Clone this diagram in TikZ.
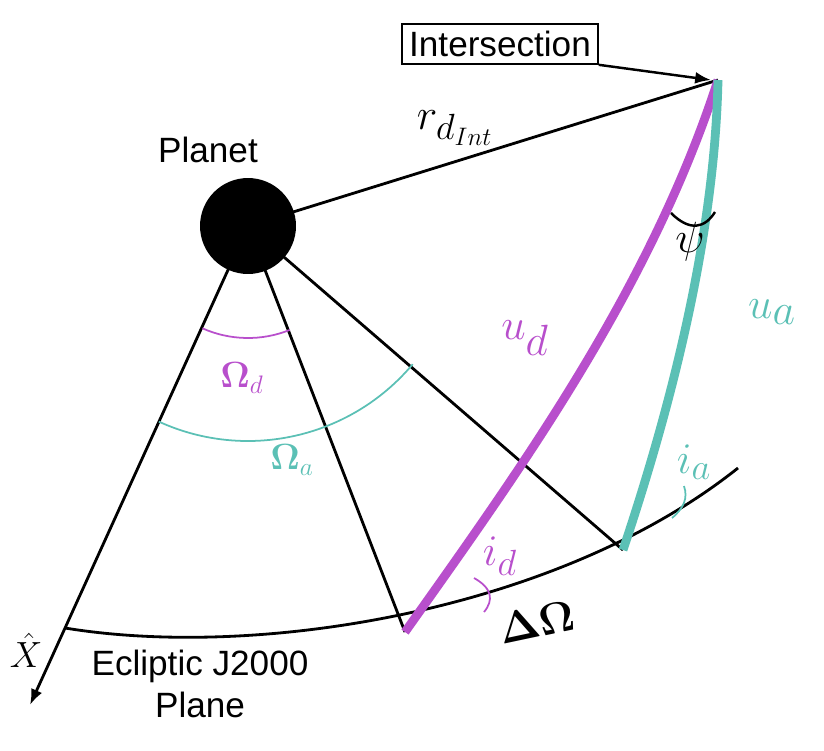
\documentclass[tikz,border=0pt]{standalone}
\usepackage{amsmath}
\usepackage{fontspec}
\setsansfont{Liberation Sans}
\usetikzlibrary{arrows.meta}
\definecolor{dmag}{HTML}{B84FCC}
\definecolor{ateal}{HTML}{5BC0B5}
\tikzset{
  spoke/.style={line width=1.6pt,black},
  lbl/.style={font=\sffamily\fontsize{20}{24}\selectfont},
}
\begin{document}
\begin{tikzpicture}[x=0.02cm,y=-0.02cm]
  \useasboundingbox (0,0) rectangle (824,750);
  % points
  \coordinate (xend) at (65,628);
  \coordinate (dbase) at (405,632);
  \coordinate (abase) at (623,550);
  \coordinate (eclend) at (738,468);
  \coordinate (int) at (718,80);
  \coordinate (xtip) at (30,705);
  \node[circle,fill=black,minimum size=1.92cm,inner sep=0pt] (planet) at (248,226) {};
  \node[lbl] (plbl) at (208,150) {Planet};
  \node[lbl,draw,line width=1pt,inner sep=4pt] (intlbl) at (500,44) {Intersection};
  % spokes
  \draw[spoke,-{Latex[length=9pt]}] (planet.center) -- (xtip);
  \draw[spoke] (planet.center) -- (dbase);
  \draw[spoke] (planet.center) -- (abase);
  \draw[spoke] (planet.center) -- (int);
  \draw[line width=1.4pt,-{Latex[length=9pt]}] (intlbl.south east) -- ([xshift=-4pt]int);
  % ecliptic
  \draw[line width=1.6pt] (xend) .. controls (260,660) and (560,610) .. (eclend);
  % orbits
  \draw[dmag,line width=5pt] (dbase) .. controls (520,470) and (650,290) .. (int);
  \draw[ateal,line width=5pt] (abase) .. controls (680,380) and (715,220) .. (int);
  % angles
  \draw[dmag,line width=1pt] (planet.center) ++(114:112) arc[start angle=114,end angle=68,radius=112];
  \draw[ateal,line width=1pt] (planet.center) ++(114.5:215) arc[start angle=114.5,end angle=40,radius=215];
  \draw[line width=1.4pt] (671,213) .. controls (690,232) and (705,228) .. (715,212);
  \draw[dmag,line width=1pt] (474,578) .. controls (492,588) and (494,600) .. (484,612);
  \draw[ateal,line width=1pt] (672,518) .. controls (684,508) and (688,498) .. (684,486);
  % labels
  \node[text=dmag,font=\fontsize{22}{24}\selectfont] (odl) at (242,378) {$\boldsymbol{\Omega}_d$};
  \node[text=ateal,font=\fontsize{22}{24}\selectfont] (oal) at (292,460) {$\boldsymbol{\Omega}_a$};
  \node[font=\fontsize{30}{32}\selectfont] (rl) at (455,128) {$r_{d_{Int}}$};
  \node[font=\fontsize{32}{34}\selectfont] (psl) at (690,242) {$\psi$};
  \node[text=dmag,font=\fontsize{62}{64}\selectfont] (udl) at (525,338) {$u_d$};
  \node[text=ateal,font=\fontsize{62}{64}\selectfont] (ual) at (772,312) {$u_a$};
  \node[text=dmag,font=\fontsize{28}{30}\selectfont] (idl) at (500,556) {$i_d$};
  \node[text=ateal,font=\fontsize{28}{30}\selectfont] (ial) at (694,462) {$i_a$};
  \node[font=\fontsize{30}{32}\selectfont,rotate=12] (dol) at (537,622) {$\boldsymbol{\Delta\Omega}$};
  \node[font=\fontsize{22}{24}\selectfont] (xl) at (26,650) {$\hat{X}$};
  \node[lbl,align=center] (ecl) at (200,684) {Ecliptic J2000\\Plane};
\end{tikzpicture}
\end{document}
